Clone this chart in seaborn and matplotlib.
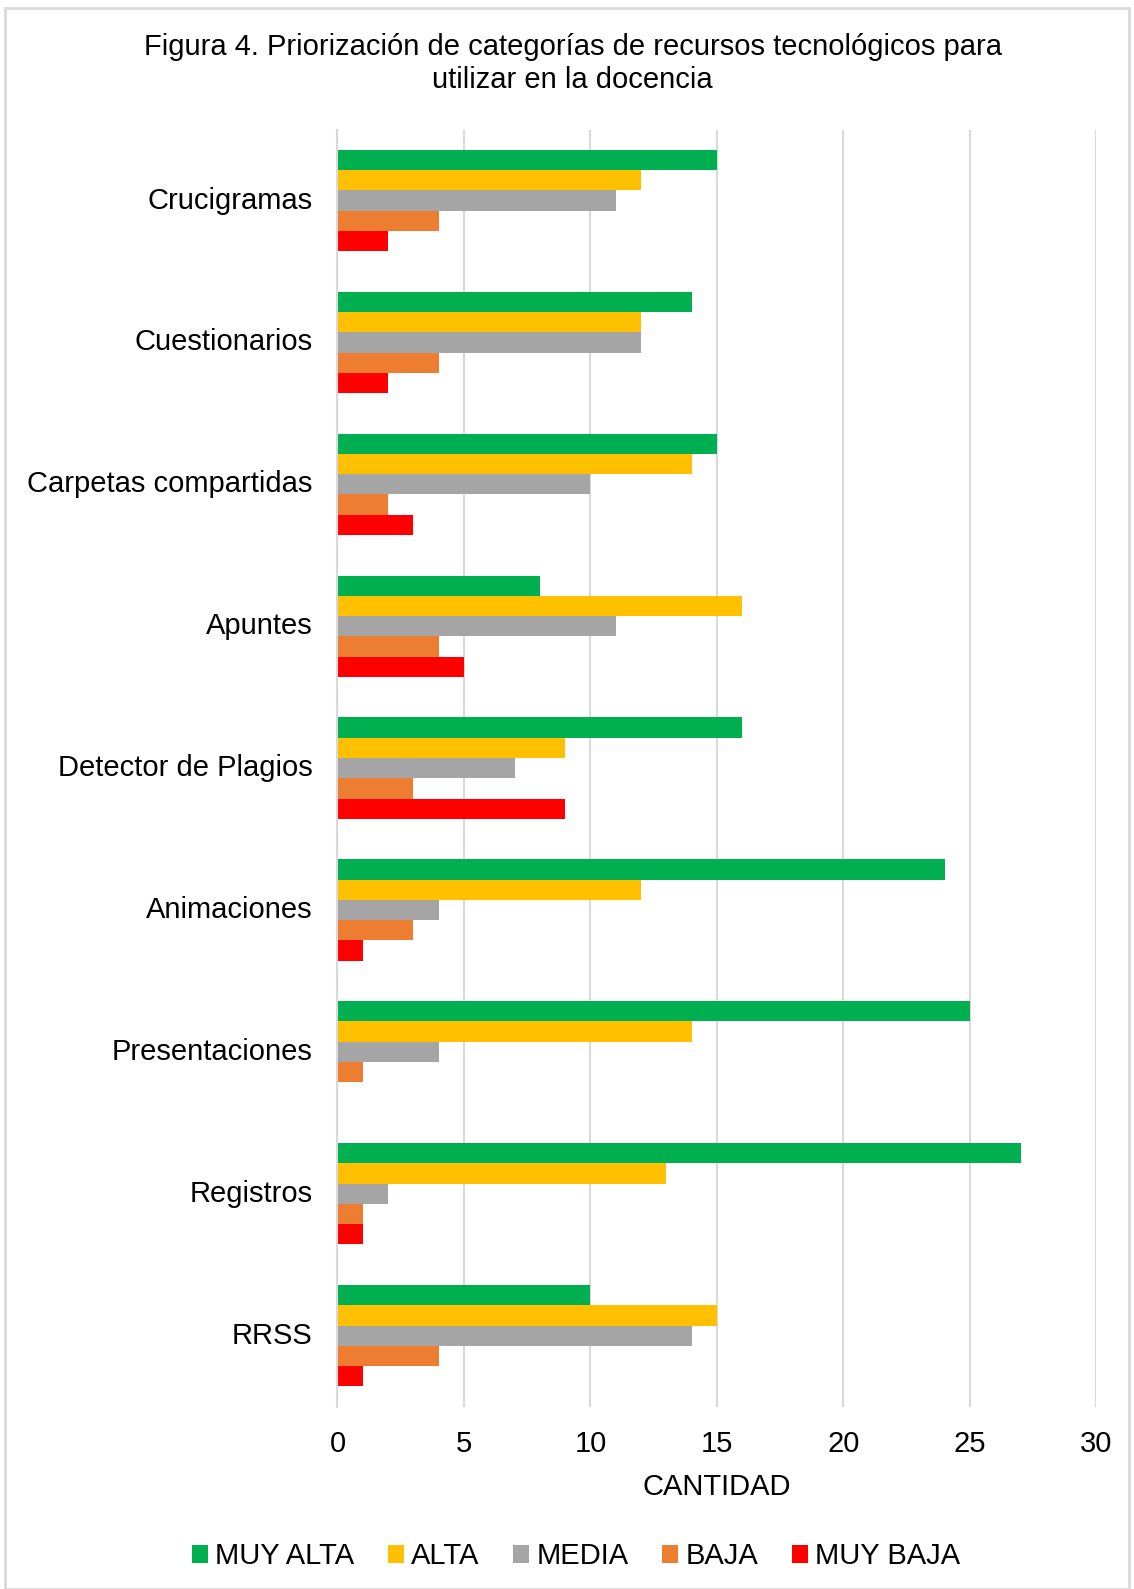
import pandas as pd
import numpy as np

import matplotlib
matplotlib.use("Agg")
import matplotlib.pyplot as plt
import matplotlib.transforms as mtransforms
import seaborn as sns
from matplotlib.patches import Patch, Rectangle

# ==========================================
# DATA
# ==========================================

categorias = [
    "Crucigramas",
    "Cuestionarios",
    "Carpetas compartidas",
    "Apuntes",
    "Detector de Plagios",
    "Animaciones",
    "Presentaciones",
    "Registros",
    "RRSS",
]

niveles = ["MUY ALTA", "ALTA", "MEDIA", "BAJA", "MUY BAJA"]

muy_alta = [15, 14, 15, 8, 16, 24, 25, 27, 10]
alta = [12, 12, 14, 16, 9, 12, 14, 13, 15]
media = [11, 12, 10, 11, 7, 4, 4, 2, 14]
baja = [4, 4, 2, 4, 3, 3, 1, 1, 4]
muy_baja = [2, 2, 3, 5, 9, 1, 0, 1, 1]

colores = ["#00B050", "#FFC000", "#A5A5A5", "#ED7D31", "#FF0000"]

# ==========================================
# LONG FORMAT
# ==========================================

series = [muy_alta, alta, media, baja, muy_baja]

rows = []
for nivel, valores in zip(niveles, series):
    for cat, v in zip(categorias, valores):
        rows.append({"Categoria": cat, "Nivel": nivel, "Cantidad": v})

df = pd.DataFrame(rows)

# ==========================================
# PLOT
# ==========================================

sns.set_style("white")
plt.rcParams["font.family"] = ["Liberation Sans", "DejaVu Sans"]
plt.rcParams["text.color"] = "black"
plt.rcParams["xtick.color"] = "black"
plt.rcParams["ytick.color"] = "black"
plt.rcParams["axes.labelcolor"] = "black"

FS = 21

fig = plt.figure(figsize=(11.34, 15.89), dpi=100)

ax = fig.add_axes([0.2976, 0.1148, 0.9669 - 0.2976, 0.9184 - 0.1148])

sns.barplot(
    data=df,
    x="Cantidad",
    y="Categoria",
    hue="Nivel",
    hue_order=niveles,
    order=categorias,
    palette=colores,
    orient="h",
    width=0.714,
    edgecolor="none",
    linewidth=0,
    saturation=1,
    ax=ax,
    legend=False,
)

ax.set_xlim(0, 30)
ax.set_ylim(len(categorias) - 0.5, -0.5)
ax.set_xticks(range(0, 31, 5))
ax.tick_params(axis="x", labelsize=FS, length=0, pad=17)
ax.tick_params(axis="y", labelsize=FS, length=0, pad=18)

# nudge category labels up a little
shift = mtransforms.ScaledTranslation(0, 3 / 100, fig.dpi_scale_trans)
for lbl in ax.get_yticklabels():
    lbl.set_transform(lbl.get_transform() + shift)

ax.set_yticks(np.arange(-0.5, len(categorias), 1), minor=True)
ax.tick_params(axis="y", which="minor", length=7, color="#D9D9D9", width=1.5)

ax.xaxis.grid(True, color="#D9D9D9", linewidth=1.5)
ax.set_axisbelow(True)

for s in ["top", "right", "bottom"]:
    ax.spines[s].set_visible(False)
ax.spines["left"].set_color("#D9D9D9")
ax.spines["left"].set_linewidth(1.5)

ax.set_ylabel("")
ax.set_xlabel("CANTIDAD", fontsize=FS, labelpad=11)

fig.suptitle(
    "Figura 4. Priorización de categorías de recursos tecnológicos para\nutilizar en la docencia",
    fontsize=FS,
    y=0.979,
    x=0.505,
    linespacing=1.2,
)

handles = [Patch(facecolor=c, edgecolor="none") for c in colores]
fig.legend(
    handles,
    niveles,
    loc="center",
    bbox_to_anchor=(0.508, 0.0205),
    ncol=5,
    frameon=False,
    fontsize=FS,
    handlelength=0.55,
    handleheight=0.55,
    handletextpad=0.25,
    columnspacing=1.15,
)

# figure border
fig.patches.append(
    Rectangle((0.004, 0.0), 0.992, 0.995, transform=fig.transFigure,
              fill=False, edgecolor="#D9D9D9", linewidth=2)
)

plt.savefig("out.png", dpi=100)
